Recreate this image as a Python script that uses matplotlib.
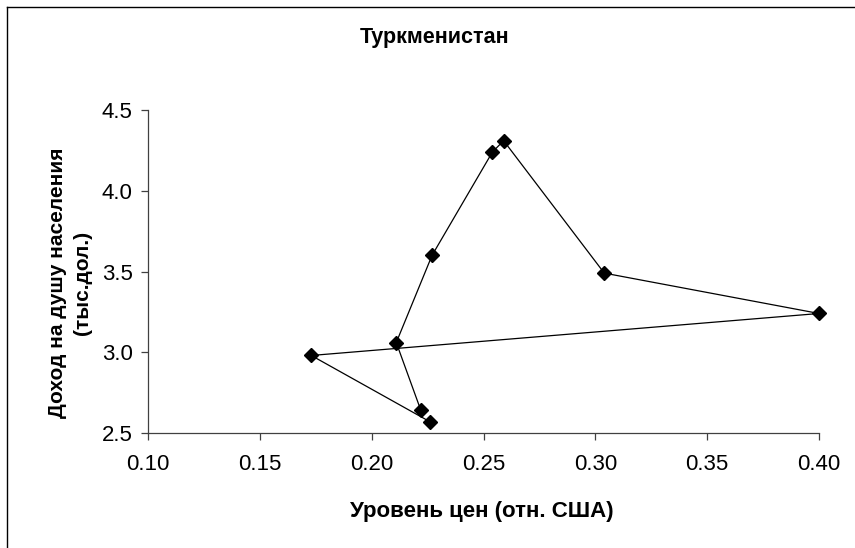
import matplotlib
matplotlib.use("Agg")
import matplotlib.pyplot as plt
from matplotlib.lines import Line2D

plt.rcParams['font.family'] = ['Liberation Sans', 'DejaVu Sans']

# price level (rel. USA) and income per capita (thous. dollars), in drawing order
price = [0.226, 0.173, 0.400, 0.304, 0.259, 0.254, 0.227, 0.211, 0.222]
income = [2.57, 2.98, 3.24, 3.49, 4.31, 4.24, 3.60, 3.06, 2.64]
xticks = [0.10, 0.15, 0.20, 0.25, 0.30, 0.35, 0.40]
yticks = [2.5, 3.0, 3.5, 4.0, 4.5]

fig = plt.figure(figsize=(8.55, 5.48), dpi=100)
ax = fig.add_axes([148/855, 1-433/548, (819-148)/855, (433-110)/548])

ax.plot(price, income, color='black', lw=0.9, marker='D', ms=7,
        mfc='black', mec='black', clip_on=False)

ax.set_xlim(0.10, 0.40)
ax.set_ylim(2.5, 4.5)
ax.set_xticks(xticks)
ax.set_xticklabels(['%.2f' % t for t in xticks])
ax.set_yticks(yticks)
ax.set_yticklabels(['%.1f' % t for t in yticks])
ax.spines['top'].set_visible(False)
ax.spines['right'].set_visible(False)
for s in ('left', 'bottom'):
    ax.spines[s].set_color('#404040')
    ax.spines[s].set_linewidth(0.9)
ax.tick_params(axis='both', direction='out', length=5, width=0.9, color='#404040',
               labelsize=16)
ax.tick_params(axis='x', pad=10)
ax.tick_params(axis='y', pad=6)

fig.text(435/855, 1-37/548, 'Туркменистан', ha='center', va='center',
         fontsize=15.5, fontweight='bold')
fig.text(482/855, 1-512/548, 'Уровень цен (отн. США)', ha='center', va='center',
         fontsize=16, fontweight='bold')
fig.text(70/855, 1-283/548, 'Доход на душу населения\n(тыс.дол.)', ha='center',
         va='center', rotation=90, fontsize=15, fontweight='bold', linespacing=1.4)

# chart area border (left and top edges visible)
fig.add_artist(Line2D([6.5/855, 6.5/855], [0, 1-7/548], transform=fig.transFigure,
                      color='black', lw=1))
fig.add_artist(Line2D([6.5/855, 1], [1-7/548, 1-7/548], transform=fig.transFigure,
                      color='black', lw=1))

fig.savefig('out.png', dpi=100, facecolor='white')
